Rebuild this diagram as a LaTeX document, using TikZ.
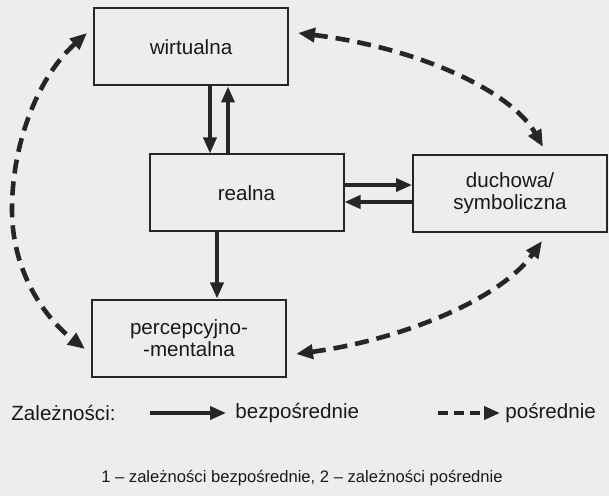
\documentclass[tikz,border=0pt]{standalone}
\usepackage{fontspec}
\setmainfont{Liberation Sans}
\usetikzlibrary{arrows.meta,calc}

\begin{document}
\begin{tikzpicture}[x=0.5pt,y=-0.5pt,
    box/.style={draw=black!85, line width=1pt, minimum width=97pt, minimum height=38.5pt,
      inner sep=1pt, align=center, text=black!90, font=\fontsize{10.3}{11}\selectfont},
    direct/.style={draw=black!85, line width=1.8pt, -{Triangle[length=8pt,width=6.5pt]}},
    indirect/.style={draw=black!85, line width=2.3pt, dash pattern=on 7pt off 4pt,
      {Triangle[length=8.5pt,width=7pt]}-{Triangle[length=8.5pt,width=7pt]}},
    legtext/.style={inner sep=0pt, anchor=west, text=black!90, font=\fontsize{10.3}{12}\selectfont}]

    \fill[black!7] (0,0) rectangle (609,496);
    \useasboundingbox (0,0) rectangle (609,496);

    % the four spaces
    \node[box] (wirt) at (191,47) {wirtualna};
    \node[box] (real) at (246.5,193) {realna};
    \node[box] (duch) at (510,193.5) {duchowa/\\symboliczna};
    \node[box] (perc) at (189,338) {percepcyjno-\\-mentalna};

    % direct links
    \draw[direct] ([xshift=9.5pt]wirt.south) -- ([xshift=-18.25pt]real.north);
    \draw[direct] ([xshift=-9.25pt]real.north) -- ([xshift=18.5pt]wirt.south);
    \draw[direct] ([yshift=4pt]real.east) -- ([yshift=4.25pt]duch.west);
    \draw[direct] ([yshift=-4.25pt]duch.west) -- ([yshift=-4.5pt]real.east);
    \draw[direct] ([xshift=-14.75pt]real.south) -- ([xshift=14pt]perc.north);

    % indirect links
    \draw[indirect] ($(wirt.east)+(9,-14)$) .. controls (420,48) and (512,92) .. ($(duch.north)+(33,-7)$);
    \draw[indirect] ($(wirt.west)+(-6,-14)$) .. controls (40,75) and (12,140) .. (12,210)
        .. controls (12,272) and (45,318) .. ($(perc.west)+(-6,11)$);
    \draw[indirect] ($(perc.east)+(9,16)$) .. controls (400,340) and (500,300) .. ($(duch.south)+(32,8)$);

    % legend
    \node[legtext] (legtitle) at (11,413) {Zależności:};
    \node[legtext] (legdirect) at (235,413) {bezpośrednie};
    \node[legtext] (legindirect) at (505,413) {pośrednie};
    \coordinate (dstart) at (150,413);
    \coordinate (istart) at (438,413);
    \draw[direct] (dstart) -- ([xshift=-4.5pt]legdirect.west);
    \draw[draw=black!85, line width=2pt, dash pattern=on 5pt off 3pt,
        -{Triangle[length=8pt,width=6.5pt]}] (istart) -- ([xshift=-2.5pt]legindirect.west);

    \node[text=black!90, font=\fontsize{8.3}{10}\selectfont] (caption) at (302,478)
        {1 – zależności bezpośrednie, 2 – zależności pośrednie};
\end{tikzpicture}
\end{document}
